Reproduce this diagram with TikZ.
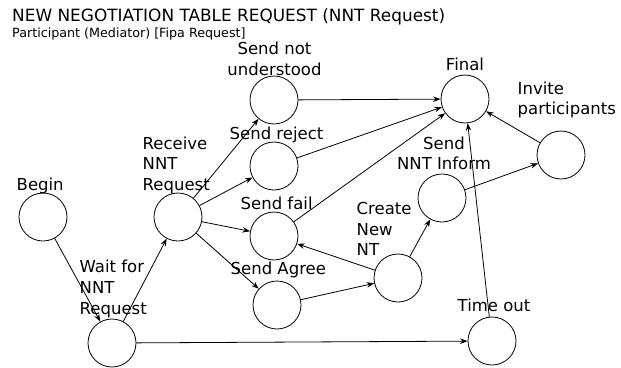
\documentclass[tikz,border=0pt]{standalone}
\usepackage{fontspec}
\setmainfont{DejaVu Sans}
\usetikzlibrary{arrows.meta}

\tikzset{
  zustand/.style={circle, draw, line width=0.8pt, minimum size=48pt, inner sep=0pt},
  beschr/.style={inner sep=0pt, align=left, font=\fontsize{16.5}{20.7}\selectfont},
  pfeil/.style={-{Stealth[length=7.5pt,width=5.5pt]}, line width=0.8pt}
}

\begin{document}
\begin{tikzpicture}[x=1pt, y=-1pt]
            \useasboundingbox (0,0) rectangle (621,367);

            % Titel
            \node[beschr, anchor=base west, font=\fontsize{16.9}{20}\selectfont] (titel) at (12,21) {NEW NEGOTIATION TABLE REQUEST (NNT Request)};
            \node[beschr, anchor=base west, font=\fontsize{12.7}{15}\selectfont] (untertitel) at (12,37) {Participant (Mediator) [Fipa Request]};

            % Zustaende
            \node[zustand] (begin)   at (43,217) {};
            \node[zustand] (wait)    at (112,343) {};
            \node[zustand] (receive) at (178,217) {};
            \node[zustand] (notund)  at (274,100) {};
            \node[zustand] (reject)  at (274,166) {};
            \node[zustand] (fail)    at (274,236) {};
            \node[zustand] (agree)   at (277,305) {};
            \node[zustand] (create)  at (398,278) {};
            \node[zustand] (inform)  at (442,198) {};
            \node[zustand] (invite)  at (561,155) {};
            \node[zustand] (final)   at (465,99) {};
            \node[zustand] (timeout) at (492,341) {};

            % Beschriftung
            \node[beschr, anchor=base west] (lbegin) at (16.5,190) {Begin};
            \node[beschr, anchor=north west] (lwait) at (79.5,260) {Wait for\\NNT\\Request};
            \node[beschr, anchor=north west] (lreceive) at (142.5,136.5) {Receive\\NNT\\Request};
            \node[beschr, anchor=north, align=center] (lnotund) at (274.5,42) {Send not\\understood};
            \node[beschr, anchor=base west] (lreject) at (229.5,139) {Send reject};
            \node[beschr, anchor=base west] (lfail) at (240.5,209) {Send fail};
            \node[beschr, anchor=base west] (lagree) at (230.5,274) {Send Agree};
            \node[beschr, anchor=north west] (lcreate) at (356.5,202) {Create\\New\\NT};
            \node[beschr, anchor=north, align=center] (linform) at (444,136.5) {Send\\NNT Inform};
            \node[beschr, anchor=base] (lfinal) at (465,70) {Final};
            \node[beschr, anchor=north west] (linvite) at (517.5,81.5) {Invite\\participants};
            \node[beschr, anchor=base west] (ltimeout) at (457.5,311) {Time out};

            % Uebergaenge
            \draw[pfeil] (begin) -- (wait);
            \draw[pfeil] (wait) -- (receive);
            \draw[pfeil] (wait) -- (timeout);
            \draw[pfeil] (receive) -- (notund);
            \draw[pfeil] (receive) -- (reject);
            \draw[pfeil] (receive) -- (fail);
            \draw[pfeil] (receive) -- (agree);
            \draw[pfeil] (notund) -- (final);
            \draw[pfeil] (reject) -- (final);
            \draw[pfeil] (fail) -- (final);
            \draw[pfeil] (agree) -- (create);
            \draw[pfeil] (create) -- (fail);
            \draw[pfeil] (create) -- (inform);
            \draw[pfeil] (inform) -- (invite);
            \draw[pfeil] (invite) -- (final);
            \draw[pfeil] (timeout) -- (final);
\end{tikzpicture}
\end{document}
